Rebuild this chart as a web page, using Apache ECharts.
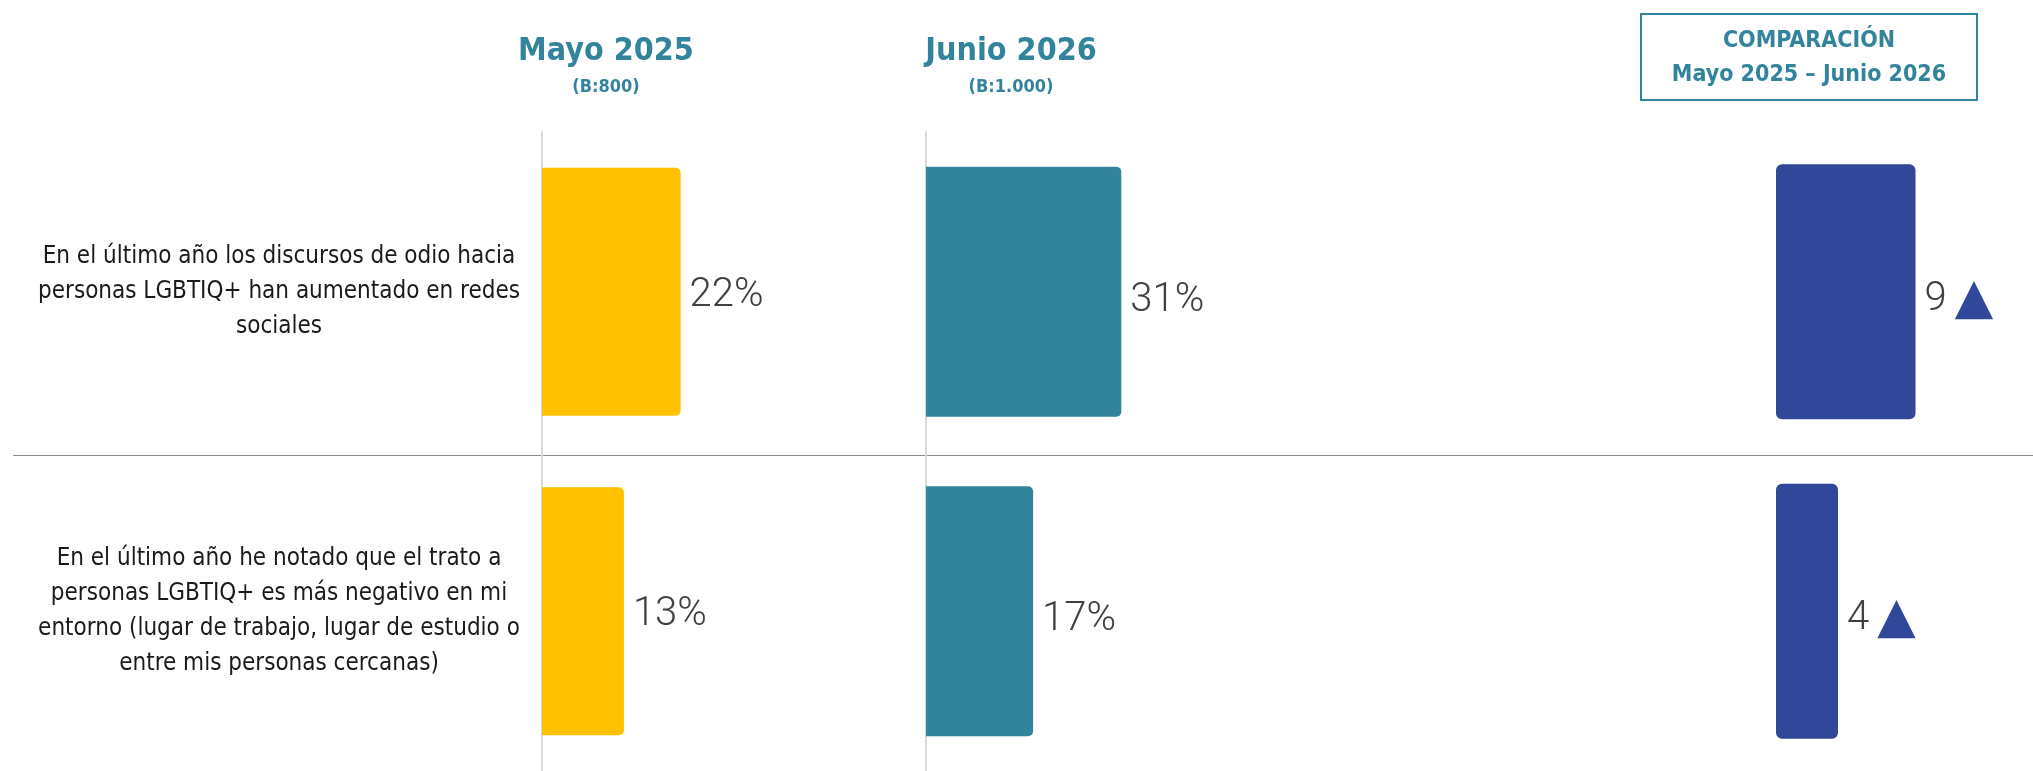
<!DOCTYPE html>
<html>
<head>
<meta charset="utf-8">
<script src="https://cdn.jsdelivr.net/npm/echarts@6/dist/echarts.min.js"></script>
<style>
  html, body { margin: 0; padding: 0; background: #fff; }
  #main { width: 2033px; height: 771px; }
</style>
</head>
<body>
<div id="main"></div>
<script>
// datos
const categories = [
    'En el último año los discursos de odio hacia\npersonas LGBTIQ+ han aumentado en redes\nsociales',
    'En el último año he notado que el trato a\npersonas LGBTIQ+ es más negativo en mi\nentorno (lugar de trabajo, lugar de estudio o\nentre mis personas cercanas)'
];
const mayo2025 = [22, 13];
const junio2026 = [31, 17];
const diferencia = [9, 4];

const narrow = "'Liberation Sans Narrow', 'DejaVu Sans Condensed', sans-serif";
const teal = '#32849c';
const amarillo = '#ffc000';
const azul = '#30479a';

var chartDom = document.getElementById('main');
var myChart = echarts.init(chartDom, null, { renderer: 'canvas' });

function pctLabel(dy) {
    return {
        show: true,
        position: 'right',
        distance: 9,
        offset: [0, dy],
        formatter: '{c}%',
        color: '#404040',
        fontFamily: 'Roboto',
        fontWeight: 300,
        fontSize: 40
    };
}

function cabecera(txt, x, y, size) {
    return {
        type: 'text', x: x, y: y,
        style: { text: txt, align: 'center', verticalAlign: 'middle', fill: teal, font: 'bold ' + size + 'px ' + narrow }
    };
}

var option = {
    backgroundColor: '#fff',
    animation: false,
    grid: [
        { left: 542, top: 132, width: 315, height: 640 },
        { left: 926, top: 132, width: 315, height: 640 },
        { left: 1776, top: 132, width: 155, height: 640 }
    ],
    xAxis: [
        { gridIndex: 0, type: 'value', min: 0, max: 50, show: false },
        { gridIndex: 1, type: 'value', min: 0, max: 50, show: false },
        { gridIndex: 2, type: 'value', min: 0, max: 10, show: false }
    ],
    yAxis: [
        {
            gridIndex: 0, type: 'category', data: categories, inverse: true,
            axisLine: { show: true, lineStyle: { color: '#d9d9d9', width: 2 } },
            axisTick: { show: false },
            axisLabel: {
                align: 'center',
                margin: 263,
                fontFamily: narrow,
                fontSize: 24,
                lineHeight: 35,
                color: '#1a1a1a'
            },
            splitLine: { show: false }
        },
        {
            gridIndex: 1, type: 'category', data: categories, inverse: true,
            axisLine: { show: true, lineStyle: { color: '#d9d9d9', width: 2 } },
            axisTick: { show: false },
            axisLabel: { show: false },
            splitLine: { show: false }
        },
        {
            gridIndex: 2, type: 'category', data: categories, inverse: true,
            show: false
        }
    ],
    graphic: [
        // cabeceras
        cabecera('Mayo 2025', 606, 52, 32),
        cabecera('(B:800)', 606, 87, 18),
        cabecera('Junio 2026', 1011, 52, 32),
        cabecera('(B:1.000)', 1011, 87, 18),
        // recuadro comparación
        { type: 'rect', shape: { x: 1641, y: 14, width: 336, height: 86 }, style: { fill: 'none', stroke: teal, lineWidth: 2 } },
        cabecera('COMPARACIÓN', 1809, 41, 23),
        cabecera('Mayo 2025 – Junio 2026', 1809, 75, 23),
        // separador entre filas
        { type: 'line', shape: { x1: 13, y1: 455.5, x2: 2033, y2: 455.5 }, style: { stroke: '#8c8c8c', lineWidth: 1 } }
    ],
    series: [
        {
            name: 'Mayo 2025',
            type: 'bar',
            xAxisIndex: 0, yAxisIndex: 0,
            data: mayo2025,
            barWidth: 248,
            itemStyle: { color: amarillo, borderRadius: [0, 5, 5, 0] },
            label: pctLabel(4)
        },
        {
            name: 'Junio 2026',
            type: 'bar',
            xAxisIndex: 1, yAxisIndex: 1,
            data: junio2026,
            barWidth: 250,
            itemStyle: { color: teal, borderRadius: [0, 5, 5, 0] },
            label: pctLabel(9)
        },
        {
            name: 'Comparación',
            type: 'bar',
            xAxisIndex: 2, yAxisIndex: 2,
            data: diferencia,
            barWidth: 255,
            itemStyle: { color: azul, borderRadius: 6 },
            label: {
                show: true,
                position: 'right',
                distance: 9,
                offset: [0, 8],
                formatter: function (p) { return '{v|' + p.value + '}{t|▲}'; },
                rich: {
                    v: { color: '#404040', fontFamily: 'Roboto', fontWeight: 300, fontSize: 40 },
                    t: { color: azul, fontFamily: 'DejaVu Sans', fontSize: 50, padding: [0, 0, 0, 8] }
                }
            }
        }
    ]
};

option && myChart.setOption(option);
</script>
</body>
</html>
